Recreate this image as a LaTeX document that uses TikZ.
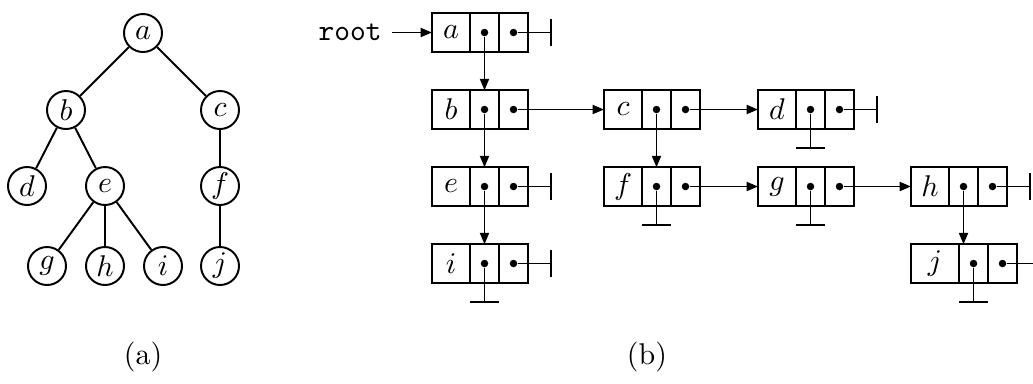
\documentclass[tikz,border=0pt]{standalone}
\usetikzlibrary{arrows.meta}

% one drawing unit
\newdimen\px \px=0.3333pt

\tikzset{
  edge/.style={line width=0.65pt},
  vertex/.style={circle, draw, line width=0.65pt, minimum size=38\px, inner sep=0pt},
  cell/.style={rectangle, draw, line width=0.65pt, minimum height=38.5\px,
    minimum width=29\px, inner sep=0pt, outer sep=0pt, anchor=west},
  ptrdot/.style={circle, fill, inner sep=0pt, minimum size=2.5pt},
  ptr/.style={line width=0.65pt, -{Triangle[length=3.8pt,width=3pt]}},
  nilptr/.style={line width=0.65pt, -{Bar[width=8.7pt]}},
  gndptr/.style={line width=0.65pt, -{Bar[width=9.7pt]}},
}

% a list cell: name, left edge x, centre y, label, width of the data field
\newcommand\listnode[5]{%
  \node[cell, minimum width=#5\px] (#1) at (#2,#3) {$#4$};
  \node[cell] (#1l) at (#1.east) {};
  \node[cell] (#1r) at (#1l.east) {};
  \node[ptrdot] (#1p) at (#1l.center) {};
  \node[ptrdot] (#1q) at (#1r.center) {};
  \coordinate (#1t) at ([xshift=38.5\px]#1q.center);
  \coordinate (#1g) at ([yshift=-39\px]#1p.center);
}

\begin{document}
\begin{tikzpicture}[x=\px, y=-\px]
\useasboundingbox (0,0) rectangle (1033,383);

% ---- (a) the tree ----
\node[vertex] (ta) at (143,33)  {$a$};
\node[vertex] (tb) at (66,110)  {$b$};
\node[vertex] (tc) at (220,110) {$c$};
\node[vertex] (td) at (27,186)  {$d$};
\node[vertex] (te) at (105,186) {$e$};
\node[vertex] (tf) at (220,186) {$f$};
\node[vertex] (tg) at (47,266)  {$g$};
\node[vertex] (th) at (105,266) {$h$};
\node[vertex] (ti) at (163,266) {$i$};
\node[vertex] (tj) at (220,266) {$j$};
\draw[edge] (ta) -- (tb);
\draw[edge] (ta) -- (tc);
\draw[edge] (tb) -- (td);
\draw[edge] (tb) -- (te);
\draw[edge] (tc) -- (tf);
\draw[edge] (te) -- (tg);
\draw[edge] (te) -- (th);
\draw[edge] (te) -- (ti);
\draw[edge] (tf) -- (tj);

% ---- (b) the linked representation ----
\listnode{a}{432}{32.5}{a}{38}
\listnode{b}{432}{109.5}{b}{38}
\listnode{e}{432}{186.5}{e}{38}
\listnode{i}{432}{263.5}{i}{38}
\listnode{c}{604}{109.5}{c}{38}
\listnode{f}{604}{186.5}{f}{38}
\listnode{d}{758}{109.5}{d}{38}
\listnode{g}{758}{186.5}{g}{38}
\listnode{h}{911}{186.5}{h}{38}
\listnode{j}{911}{263.5}{j}{48}

\node (root) at (350,32.5) {\texttt{root}};
\draw[ptr] (root) -- (a);

% downward links
\draw[ptr] (ap) -- (ap |- b.north);
\draw[ptr] (bp) -- (bp |- e.north);
\draw[ptr] (ep) -- (ep |- i.north);
\draw[ptr] (cp) -- (cp |- f.north);
\draw[ptr] (hp) -- (hp |- j.north);

% sideways links
\draw[ptr] (bq) -- (c);
\draw[ptr] (cq) -- (d);
\draw[ptr] (fq) -- (g);
\draw[ptr] (gq) -- (h);

% null links
\draw[nilptr] (aq) -- (at);
\draw[nilptr] (dq) -- (dt);
\draw[nilptr] (eq) -- (et);
\draw[nilptr] (iq) -- (it);
\draw[nilptr] (hq) -- (ht);
\draw[nilptr] (jq) -- (jt);
\draw[gndptr] (dp) -- (dg);
\draw[gndptr] (fp) -- (fg);
\draw[gndptr] (gp) -- (gg);
\draw[gndptr] (ip) -- (ig);
\draw[gndptr] (jp) -- (jg);

% captions
\node (capa) at (143,357) {(a)};
\node (capb) at (647,357) {(b)};
\end{tikzpicture}
\end{document}
